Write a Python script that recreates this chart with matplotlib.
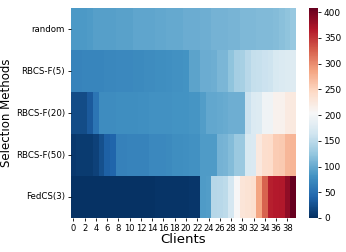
import numpy as np
import matplotlib
matplotlib.use("Agg")
import matplotlib.pyplot as plt
import seaborn as sns

methods = ["random", "RBCS-F(5)", "RBCS-F(20)", "RBCS-F(50)", "FedCS(3)"]
clients = list(range(40))

random_sel = [87, 87, 87, 89, 91, 91, 91, 91, 93, 93, 93, 96, 96, 96, 96, 98, 98, 100, 100, 100,
              102, 103, 103, 105, 105, 107, 107, 107, 109, 109, 112, 112, 112, 114, 114, 114, 116, 118, 122, 127]
rbcs5 = [68, 68, 69, 69, 70, 70, 71, 71, 72, 72, 73, 74, 74, 75, 76, 77, 78, 79, 80, 81,
         82, 95, 95, 102, 102, 104, 110, 111, 122, 135, 136, 148, 155, 157, 160, 162, 172, 174, 176, 178]
rbcs20 = [22, 22, 22, 32, 55, 75, 76, 76, 77, 77, 78, 78, 79, 79, 80, 80, 81, 81, 82, 82,
          82, 83, 83, 90, 98, 98, 99, 101, 104, 104, 105, 160, 175, 176, 195, 196, 212, 213, 222, 224]
rbcs50 = [7, 8, 8, 9, 14, 25, 38, 40, 66, 66, 67, 67, 68, 68, 72, 72, 73, 74, 78, 78,
          79, 80, 81, 88, 88, 89, 108, 109, 116, 128, 129, 172, 173, 225, 240, 242, 255, 257, 272, 274]
fedcs3 = [2, 2, 2, 2, 2, 2, 3, 3, 3, 3, 3, 3, 3, 3, 3, 4, 4, 4, 4, 4,
          4, 5, 5, 88, 90, 146, 148, 150, 168, 205, 230, 233, 236, 285, 325, 362, 365, 368, 385, 408]

data = np.array([random_sel, rbcs5, rbcs20, rbcs50, fedcs3])

fig = plt.figure(figsize=(3.46, 2.52), dpi=100)
ax = fig.add_axes([0.204, 0.135, 0.651, 0.833])
cax = fig.add_axes([0.893, 0.135, 0.027, 0.833])

sns.heatmap(data, cmap="RdBu_r", vmin=0, vmax=408, ax=ax, cbar_ax=cax,
            xticklabels=2, yticklabels=methods)

ax.set_xticks(np.arange(0, 40, 2) + 0.5)
ax.set_xticklabels([str(c) for c in clients[::2]], fontsize=6, rotation=0)
ax.set_yticklabels(methods, fontsize=6.2, rotation=0)
ax.tick_params(length=2.5, width=0.6, pad=1.5)
ax.set_xlabel("Clients", fontsize=9.5, labelpad=0)
ax.set_ylabel("Selection Methods", fontsize=8.5)
ax.yaxis.set_label_coords(-0.255, 0.5)

cax.set_yticks(range(0, 401, 50))
cax.tick_params(labelsize=6.5, length=2.5, width=0.6, pad=1.5)

fig.savefig("out.png", dpi=100)
